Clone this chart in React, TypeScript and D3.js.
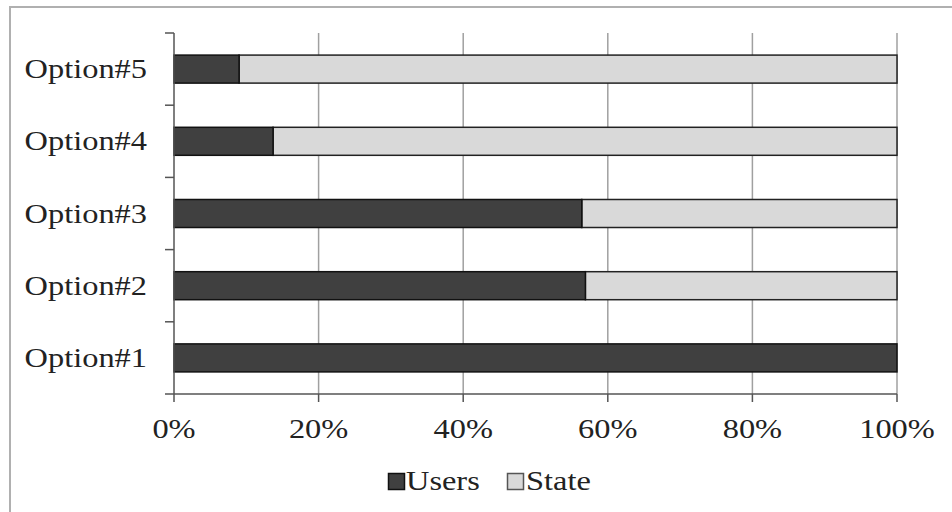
import React from "react";
import * as d3 from "d3";

const categories = ["Option#1", "Option#2", "Option#3", "Option#4", "Option#5"];
const usersValues = [1.0, 0.569, 0.564, 0.137, 0.09];
const stateValues = [0.0, 0.431, 0.436, 0.863, 0.91];
const xTicks = [0, 0.2, 0.4, 0.6, 0.8, 1.0];
const seriesNames = ["Users", "State"];

const W = 952;
const H = 512;
const left = 174;
const right = 897;
const top = 33;
const bottom = 394;
const SX = 1.2;
const FONT = "'Liberation Serif', 'Times New Roman', serif";

function SText({ x, y, anchor, size, children }: any) {
  return (
    <text
      transform={`translate(${x},${y}) scale(${SX},1)`}
      textAnchor={anchor}
      fontFamily={FONT}
      fontSize={size}
      fill="#222"
    >
      {children}
    </text>
  );
}

export default function App() {
  const x = d3.scaleLinear().domain([0, 1]).range([left, right]);
  const y = d3
    .scaleBand<string>()
    .domain([...categories].reverse())
    .range([top, bottom])
    .paddingInner(0.612)
    .paddingOuter(0.306);
  const step = (bottom - top) / categories.length;
  const catTicks = d3.range(categories.length + 1).map((i) => top + i * step);
  const fmt = d3.format(".0%");
  const colors = ["#404040", "#d9d9d9"];

  return (
    <svg
      width={W}
      height={H}
      style={{ position: "absolute", left: 0, top: 0, background: "#fff" }}
    >
      <rect x={0} y={0} width={W} height={H} fill="#fff" />
      <rect x={10} y={7} width={W + 20} height={H + 20} fill="none" stroke="#b0b0b0" strokeWidth={2} />

      {/* gridlines */}
      {xTicks.slice(1).map((t) => (
        <line key={"g" + t} x1={x(t)} x2={x(t)} y1={top} y2={bottom} stroke="#a0a0a0" strokeWidth={1.5} />
      ))}

      {/* bars */}
      {categories.map((c, i) => {
        const y0 = y(c)!;
        const bw = y.bandwidth();
        const u = usersValues[i];
        const s = stateValues[i];
        return (
          <g key={c}>
            {s > 0 && (
              <rect x={x(u)} y={y0} width={x(u + s) - x(u)} height={bw} fill={colors[1]} stroke="#222" strokeWidth={1.5} />
            )}
            <rect x={x(0)} y={y0} width={x(u) - x(0)} height={bw} fill={colors[0]} stroke="#111" strokeWidth={1.5} />
          </g>
        );
      })}

      {/* y axis */}
      <line x1={left} x2={left} y1={top} y2={bottom} stroke="#555" strokeWidth={1.5} />
      {catTicks.map((t, i) => (
        <line key={"yt" + i} x1={left - 9} x2={left} y1={t} y2={t} stroke="#555" strokeWidth={1.5} />
      ))}
      {categories.map((c) => (
        <SText key={"yl" + c} x={147} y={y(c)! + y.bandwidth() / 2 + 9} anchor="end" size={27}>
          {c}
        </SText>
      ))}

      {/* x axis */}
      <line x1={left} x2={right} y1={bottom} y2={bottom} stroke="#555" strokeWidth={1.5} />
      {xTicks.map((t) => (
        <line key={"xt" + t} x1={x(t)} x2={x(t)} y1={bottom} y2={bottom + 8} stroke="#555" strokeWidth={1.5} />
      ))}
      {xTicks.map((t) => (
        <SText key={"xl" + t} x={x(t)} y={438} anchor="middle" size={27}>
          {fmt(t)}
        </SText>
      ))}

      {/* legend */}
      <rect x={388.5} y={473.5} width={16} height={16} fill={colors[0]} stroke="#111" strokeWidth={1.5} />
      <SText x={406} y={490} anchor="start" size={27}>
        {seriesNames[0]}
      </SText>
      <rect x={507.5} y={473.5} width={16} height={16} fill={colors[1]} stroke="#555" strokeWidth={1.5} />
      <SText x={526} y={490} anchor="start" size={27}>
        {seriesNames[1]}
      </SText>
    </svg>
  );
}
